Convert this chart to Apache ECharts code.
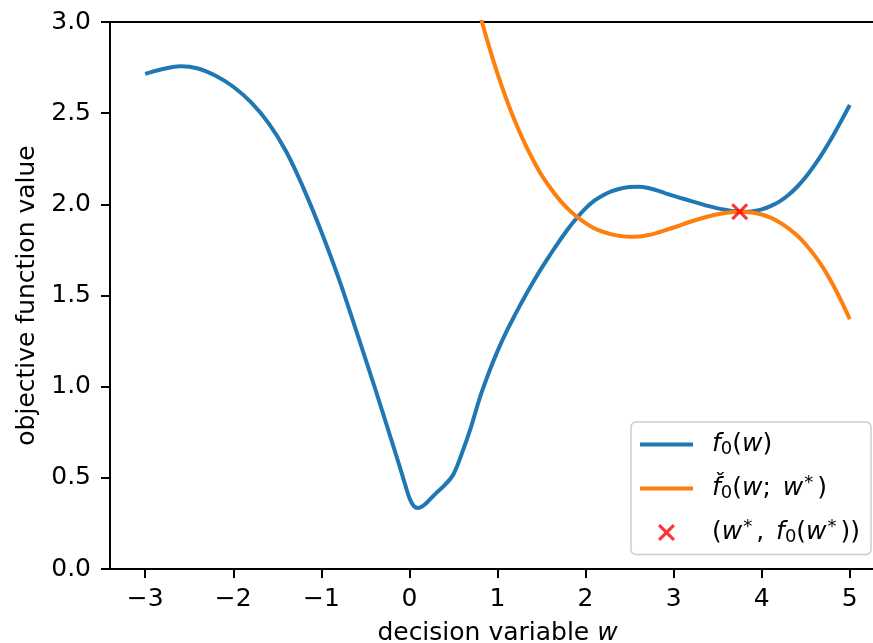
<!DOCTYPE html>
<html>
<head>
<meta charset="utf-8">
<title>objective function and its local model</title>
<script src="https://cdn.jsdelivr.net/npm/echarts@6/dist/echarts.min.js"></script>
<style>
  html, body { margin: 0; padding: 0; background: #ffffff; }
  #chart { width: 873px; height: 643px; }
</style>
</head>
<body>
<div id="chart"></div>
<script>
// objective f0(w) sampled along the decision variable
const wF = [-3.0, -2.8, -2.6, -2.4, -2.2, -2.0, -1.8, -1.6, -1.4, -1.2, -1.0, -0.8, -0.6, -0.4, -0.2, -0.1, -0.05,
            0.0, 0.05, 0.1, 0.15, 0.2, 0.3, 0.4, 0.5, 0.6, 0.7, 0.8, 0.9, 1.0, 1.1, 1.2, 1.3, 1.4, 1.5,
            1.6, 1.7, 1.8, 1.9, 2.0, 2.1, 2.2, 2.3, 2.4, 2.5, 2.6, 2.7, 2.8, 2.9, 3.0, 3.1, 3.2, 3.3, 3.4,
            3.5, 3.6, 3.7, 3.8, 3.9, 4.0, 4.1, 4.2, 4.3, 4.4, 4.5, 4.6, 4.7, 4.8, 4.9, 5.0];
const fVals = [2.715, 2.742, 2.757, 2.745, 2.705, 2.645, 2.56, 2.445, 2.29, 2.085, 1.85, 1.59, 1.30, 1.005, 0.70, 0.545, 0.465,
               0.39, 0.345, 0.335, 0.345, 0.365, 0.415, 0.46, 0.52, 0.64, 0.78, 0.94, 1.075, 1.195, 1.30, 1.395, 1.485, 1.57, 1.65,
               1.725, 1.797, 1.865, 1.925, 1.978, 2.02, 2.05, 2.072, 2.087, 2.095, 2.096, 2.091, 2.078, 2.062, 2.046, 2.032, 2.018, 2.004, 1.99,
               1.978, 1.969, 1.962, 1.959, 1.962, 1.972, 1.99, 2.015, 2.05, 2.095, 2.15, 2.215, 2.288, 2.368, 2.455, 2.545];

// local model f̌0(w; w*) built around w*
const wC = [0.8, 0.9, 1.0, 1.1, 1.2, 1.3, 1.4, 1.5, 1.6, 1.7, 1.8, 1.9, 2.0, 2.1, 2.2, 2.3, 2.4, 2.5, 2.6, 2.7, 2.8, 2.9, 3.0,
            3.2, 3.4, 3.6, 3.75, 3.9, 4.0, 4.1, 4.2, 4.3, 4.4, 4.5, 4.6, 4.7, 4.8, 4.9, 5.0];
const cVals = [3.04, 2.872, 2.717, 2.578, 2.454, 2.344, 2.247, 2.161, 2.09, 2.027, 1.975, 1.932, 1.897, 1.868, 1.849, 1.835, 1.826, 1.822, 1.823, 1.83, 1.842, 1.857, 1.873,
               1.906, 1.935, 1.954, 1.96, 1.954, 1.944, 1.927, 1.902, 1.87, 1.83, 1.78, 1.72, 1.65, 1.567, 1.473, 1.37];

// the point (w*, f0(w*))
const wStar = [3.75];
const fStar = [1.96];

const xTicks = [-3, -2, -1, 0, 1, 2, 3, 4, 5];
const xMin = -3.4, xMax = 5.4;
const yMin = 0, yMax = 3, yStep = 0.5;

const FONT = "'DejaVu Sans', 'Noto Sans', sans-serif";
const FS = 25;
const zip = (xs, ys) => xs.map((x, i) => [x, ys[i]]);

// math-like rich text pieces
const rich = {
  n:   { fontFamily: FONT, fontSize: FS, color: '#000', lineHeight: 28 },
  it:  { fontFamily: FONT, fontSize: FS, fontStyle: 'italic', color: '#000', lineHeight: 28 },
  sub: { fontFamily: FONT, fontSize: 18, color: '#000', lineHeight: 18, verticalAlign: 'bottom' },
  sup: { fontFamily: FONT, fontSize: 18, color: '#000', lineHeight: 18, verticalAlign: 'top', padding: [0, 4, 0, 1] },
  gap: { width: 4 },
  sp:  { width: 14 }
};

const legendLabels = {
  'f0': '{sp|}{it|f}{sub|0}{n|(}{it|w}{n|)}',
  'f0check': '{sp|}{it|f\u030C}{sub|0}{n|(}{it|w}{n|;}{gap|}{n| }{it|w}{sup|*}{n|)}',
  'opt': '{sp|}{n|(}{it|w}{sup|*}{n|,}{gap|}{n| }{it|f}{sub|0}{n|(}{it|w}{sup|*}{n|))}'
};

const xMark = 'path://M0,1.3 L1.3,0 L5,3.7 L8.7,0 L10,1.3 L6.3,5 L10,8.7 L8.7,10 L5,6.3 L1.3,10 L0,8.7 L3.7,5 Z';
const lineIcon = 'path://M0,0 L53,0 L53,4 L0,4 Z';

const chart = echarts.init(document.getElementById('chart'), null, { renderer: 'canvas' });

chart.setOption({
  animation: false,
  backgroundColor: '#ffffff',
  textStyle: { fontFamily: FONT },
  grid: {
    left: 110, top: 22, width: 775, height: 547,
    outerBoundsMode: 'none', containLabel: false,
    show: true, borderColor: '#000', borderWidth: 2, backgroundColor: 'transparent'
  },
  xAxis: {
    type: 'value', min: xMin, max: xMax,
    name: '{n|decision variable }{it|w}',
    nameLocation: 'middle', nameGap: 50,
    nameTextStyle: { rich: rich },
    axisLine: { show: true, onZero: false, lineStyle: { color: '#000', width: 2 } },
    axisTick: { show: true, customValues: xTicks, length: 9, lineStyle: { color: '#000', width: 2 } },
    axisLabel: {
      customValues: xTicks, margin: 18, fontSize: FS, color: '#000', fontFamily: FONT,
      formatter: v => (v < 0 ? '\u2212' + Math.abs(v) : String(v))
    },
    splitLine: { show: false }
  },
  yAxis: {
    type: 'value', min: yMin, max: yMax, interval: yStep,
    name: 'objective function value',
    nameLocation: 'middle', nameGap: 57,
    nameTextStyle: { fontSize: FS, color: '#000', fontFamily: FONT },
    axisLine: { show: true, onZero: false, lineStyle: { color: '#000', width: 2 } },
    axisTick: { show: true, length: 9, lineStyle: { color: '#000', width: 2 } },
    axisLabel: { margin: 19, fontSize: FS, color: '#000', fontFamily: FONT, formatter: v => v.toFixed(1) },
    splitLine: { show: false }
  },
  legend: {
    orient: 'vertical', left: 631, top: 422,
    padding: [10, 11, 8, 9], itemGap: 16,
    itemWidth: 53, itemHeight: 17,
    backgroundColor: 'rgba(255,255,255,0.8)',
    borderColor: '#cccccc', borderWidth: 1.5, borderRadius: 5,
    data: [
      { name: 'f0', icon: lineIcon },
      { name: 'f0check', icon: lineIcon },
      { name: 'opt', icon: xMark }
    ],
    formatter: name => legendLabels[name],
    textStyle: { rich: rich }
  },
  series: [
    {
      name: 'f0', type: 'line', data: zip(wF, fVals),
      symbol: 'none', showSymbol: false, smooth: 0.4,
      lineStyle: { color: '#1f77b4', width: 4 }, itemStyle: { color: '#1f77b4' },
      clip: true, z: 2
    },
    {
      name: 'f0check', type: 'line', data: zip(wC, cVals),
      symbol: 'none', showSymbol: false, smooth: 0.4,
      lineStyle: { color: '#ff7f0e', width: 4 }, itemStyle: { color: '#ff7f0e' },
      clip: true, z: 3
    },
    {
      name: 'opt', type: 'scatter', data: zip(wStar, fStar),
      symbol: xMark, symbolSize: 17,
      itemStyle: { color: '#ff0000' }, z: 4
    }
  ]
});
</script>
</body>
</html>
